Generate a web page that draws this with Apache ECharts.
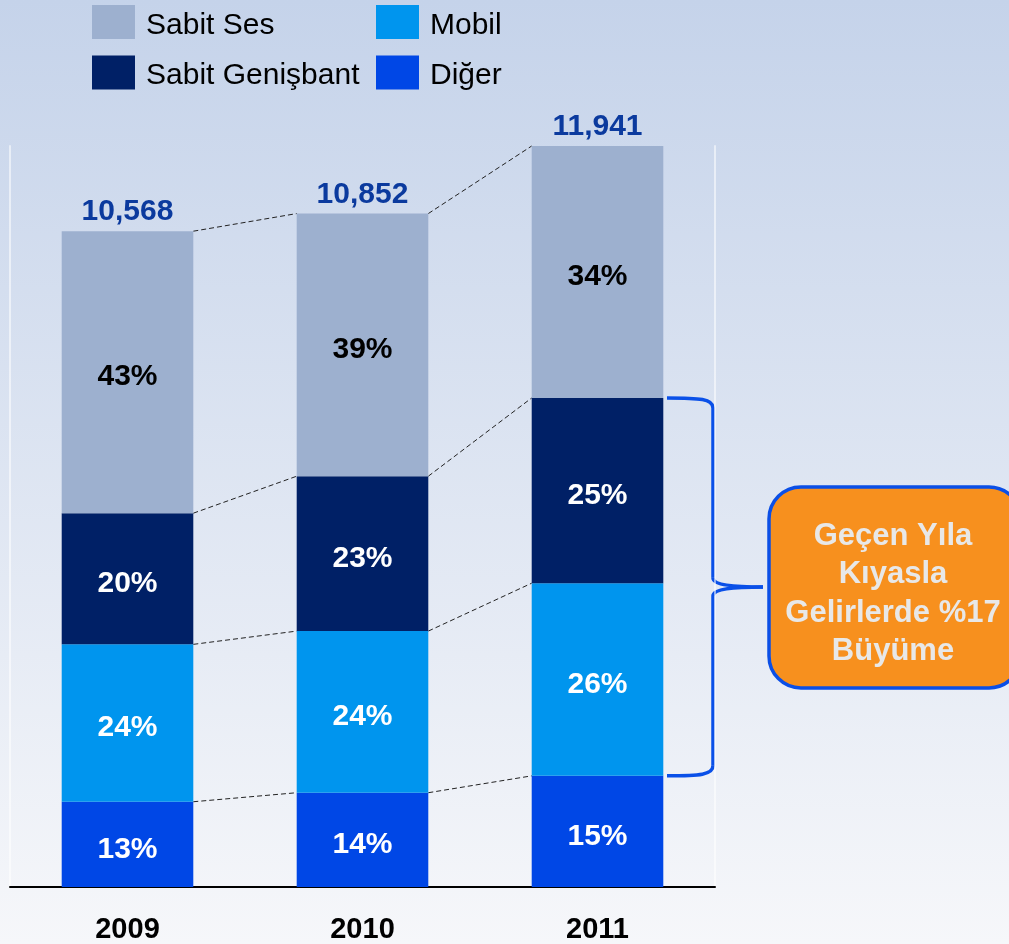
<!DOCTYPE html>
<html>
<head>
<meta charset="utf-8">
<title>Gelir Dağılımı</title>
<script src="https://cdn.jsdelivr.net/npm/echarts@6/dist/echarts.min.js"></script>
<style>
html,body{margin:0;padding:0;background:#f6f7fa;}
#main{width:1009px;height:944px;}
</style>
</head>
<body>
<div id="main"></div>
<script>
// veriler
var years = ['2009', '2010', '2011'];
var totals = [10568, 10852, 11941];
var pctSabitSes = [43, 39, 34];
var pctGenisbant = [20, 23, 25];
var pctMobil = [24, 24, 26];
var pctDiger = [13, 14, 15];

var colors = {
    ses: '#9db0cf',
    genis: '#002066',
    mobil: '#0095ee',
    diger: '#0047e6'
};

function segValues(pct){
    var arr = [];
    for (var i = 0; i < pct.length; i++) {
        arr.push({value: totals[i] * pct[i] / 100, pct: pct[i]});
    }
    return arr;
}

var diger = segValues(pctDiger);
var mobil = segValues(pctMobil);
var genis = segValues(pctGenisbant);
var ses = segValues(pctSabitSes);

// kesikli bağlantı çizgileri: her sınır için [yıl, kümülatif, sonraki yıl kümülatif]
var levels = [diger, mobil, genis, ses];
var linkData = [];
for (var i = 0; i < years.length - 1; i++) {
    var c1 = 0, c2 = 0;
    for (var k = 0; k < levels.length; k++) {
        c1 += levels[k][i].value;
        c2 += levels[k][i + 1].value;
        linkData.push([i, c1, c2]);
    }
}

var myChart = echarts.init(document.getElementById('main'));

var pctLabel = function(color){
    return {
        show: true,
        position: 'inside',
        offset: [0, 5],
        color: color,
        fontFamily: 'Liberation Sans, Arial',
        fontWeight: 'bold',
        fontSize: 30,
        formatter: function(p){ return p.data.pct + '%'; }
    };
};

var legendText = {
    color: '#000',
    fontFamily: 'Liberation Sans, Arial',
    fontSize: 30,
    rich: {
        t: {
            color: '#000',
            fontFamily: 'Liberation Sans, Arial',
            fontSize: 30,
            padding: [7, 0, 0, 6]
        }
    }
};

option = {
    backgroundColor: {
        type: 'linear', x: 0, y: 0, x2: 0, y2: 1,
        colorStops: [
            {offset: 0, color: '#c5d3ea'},
            {offset: 1, color: '#f6f7fa'}
        ]
    },
    legend: [
        {
            orient: 'vertical',
            left: 87,
            top: 0,
            itemWidth: 43,
            itemHeight: 34,
            itemGap: 15,
            icon: 'rect',
            selectedMode: false,
            formatter: '{t|{name}}',
            textStyle: legendText,
            data: ['Sabit Ses', 'Sabit Genişbant']
        },
        {
            orient: 'vertical',
            left: 371,
            top: 0,
            itemWidth: 43,
            itemHeight: 34,
            itemGap: 15,
            icon: 'rect',
            selectedMode: false,
            formatter: '{t|{name}}',
            textStyle: legendText,
            data: ['Mobil', 'Diğer']
        }
    ],
    grid: {
        left: 10,
        right: 294,
        top: 146,
        bottom: 57
    },
    xAxis: {
        type: 'category',
        data: years,
        axisTick: {show: false},
        axisLine: {lineStyle: {color: '#000', width: 2}},
        axisLabel: {
            margin: 28,
            color: '#000',
            fontFamily: 'Liberation Sans, Arial',
            fontWeight: 'bold',
            fontSize: 29
        }
    },
    yAxis: [
        {
            type: 'value',
            min: 0,
            max: function(v){ return v.max; },
            splitLine: {show: false},
            axisLabel: {show: false},
            axisTick: {show: false},
            axisLine: {show: true, lineStyle: {color: 'rgba(255,255,255,0.55)', width: 2}}
        },
        {
            type: 'value',
            position: 'right',
            min: 0,
            max: function(v){ return v.max; },
            splitLine: {show: false},
            axisLabel: {show: false},
            axisTick: {show: false},
            axisLine: {show: true, lineStyle: {color: 'rgba(255,255,255,0.55)', width: 2}}
        }
    ],
    series: [
        {
            name: 'Diğer',
            type: 'bar',
            stack: 'gelir',
            barWidth: '56%',
            itemStyle: {color: colors.diger},
            label: pctLabel('#fff'),
            data: diger
        },
        {
            name: 'Mobil',
            type: 'bar',
            stack: 'gelir',
            itemStyle: {color: colors.mobil},
            label: pctLabel('#fff'),
            data: mobil
        },
        {
            name: 'Sabit Genişbant',
            type: 'bar',
            stack: 'gelir',
            itemStyle: {color: colors.genis},
            label: pctLabel('#fff'),
            data: genis
        },
        {
            name: 'Sabit Ses',
            type: 'bar',
            stack: 'gelir',
            itemStyle: {color: colors.ses},
            label: pctLabel('#000'),
            data: ses
        },
        {
            // toplam etiketleri
            type: 'bar',
            stack: 'gelir',
            silent: true,
            itemStyle: {color: 'transparent'},
            label: {
                show: true,
                position: 'top',
                distance: 4,
                color: '#0b3a9e',
                fontFamily: 'Liberation Sans, Arial',
                fontWeight: 'bold',
                fontSize: 30,
                formatter: function(p){ return totals[p.dataIndex].toLocaleString('en-US'); }
            },
            data: [0, 0, 0]
        },
        {
            type: 'custom',
            silent: true,
            renderItem: function(params, api){
                var p1 = api.coord([api.value(0), api.value(1)]);
                var p2 = api.coord([api.value(0) + 1, api.value(2)]);
                var hw = api.size([1, 0])[0] * 0.28;
                return {
                    type: 'line',
                    shape: {x1: p1[0] + hw, y1: p1[1], x2: p2[0] - hw, y2: p2[1]},
                    style: {stroke: '#222', lineWidth: 1, lineDash: [5, 3]}
                };
            },
            encode: {x: 0, y: [1, 2]},
            data: linkData
        }
    ]
};

myChart.setOption(option);

// parantez ve kutu (2011 genişbant + mobil aralığı)
var yA = myChart.convertToPixel({yAxisIndex: 0}, diger[2].value + mobil[2].value + genis[2].value);
var yB = myChart.convertToPixel({yAxisIndex: 0}, diger[2].value);
var yM = (yA + yB) / 2;
var bx = 713;
var brace = {stroke: '#0a50e8', lineWidth: 3.5, fill: null};

function curve(x1, y1, cx1, cy1, cx2, cy2, x2, y2){
    return {
        type: 'bezierCurve',
        shape: {x1: x1, y1: y1, cpx1: cx1, cpy1: cy1, cpx2: cx2, cpy2: cy2, x2: x2, y2: y2},
        style: brace
    };
}
function seg(x1, y1, x2, y2){
    return {type: 'line', shape: {x1: x1, y1: y1, x2: x2, y2: y2}, style: brace};
}

myChart.setOption({
    graphic: [
        curve(667, yA, 700, yA, bx, yA + 1, bx, yA + 10),
        seg(bx, yA + 10, bx, yM - 9),
        curve(bx, yM - 9, bx, yM - 2, 735, yM, 763, yM),
        curve(763, yM, 735, yM, bx, yM + 2, bx, yM + 9),
        seg(bx, yM + 9, bx, yB - 10),
        curve(bx, yB - 10, bx, yB - 1, 700, yB, 667, yB),
        {
            type: 'rect',
            shape: {x: 769, y: yM - 100, width: 252, height: 201, r: 32},
            style: {fill: '#f7901e', stroke: '#0b4fe6', lineWidth: 3.5}
        },
        {
            type: 'text',
            x: 893,
            y: yM + 7,
            style: {
                text: 'Geçen Yıla\nKıyasla\nGelirlerde %17\nBüyüme',
                fill: '#e8e8e8',
                font: 'bold 31px "Liberation Sans", Arial',
                lineHeight: 38.5,
                align: 'center',
                verticalAlign: 'middle'
            }
        }
    ]
});
</script>
</body>
</html>
